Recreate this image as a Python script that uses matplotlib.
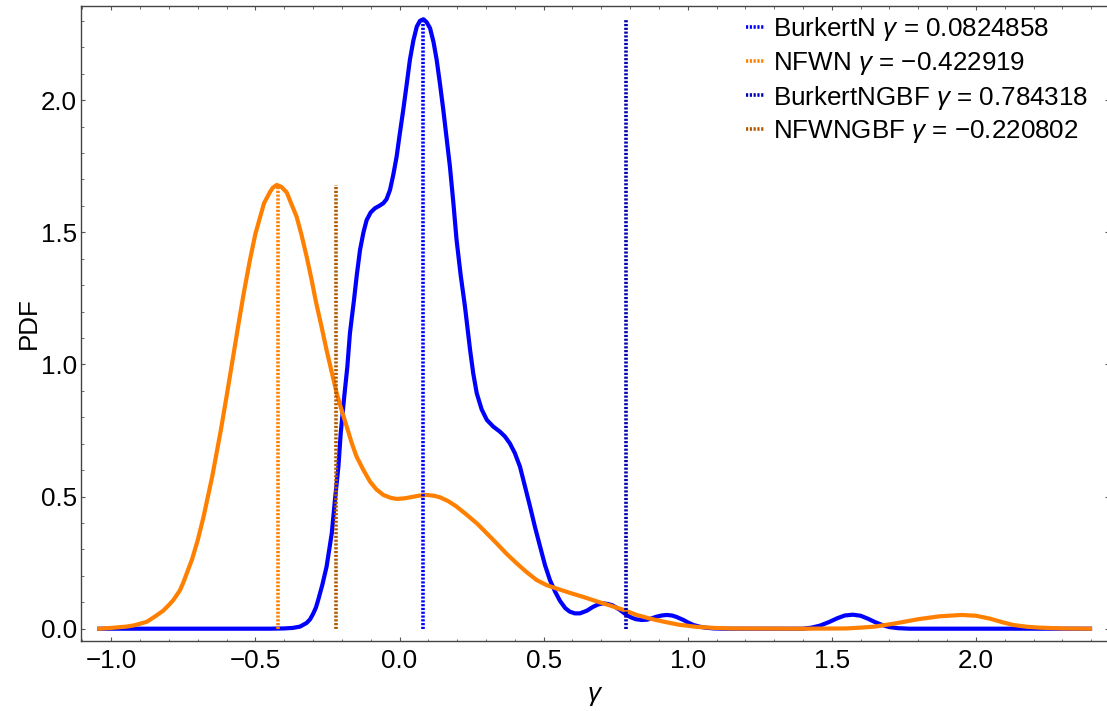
import matplotlib
matplotlib.use("Agg")
import matplotlib.pyplot as plt
from matplotlib.ticker import MultipleLocator
from matplotlib.lines import Line2D

# ---- data ----
burkert_x = [-1.042, -0.45, -0.40, -0.37, -0.345, -0.322, -0.31, -0.299, -0.29, -0.282,
             -0.268, -0.253, -0.235, -0.224, -0.212, -0.204, -0.193, -0.181, -0.172, -0.158,
             -0.148, -0.137, -0.125, -0.114, -0.10, -0.085, -0.07, -0.056, -0.045, -0.033,
             -0.022, -0.010, 0.0, 0.013, 0.025, 0.036, 0.048, 0.060, 0.071, 0.083,
             0.094, 0.106, 0.118, 0.129, 0.14, 0.152, 0.163, 0.175, 0.187, 0.198,
             0.212, 0.227, 0.245, 0.256, 0.268, 0.285, 0.303, 0.325, 0.349, 0.366,
             0.383, 0.40, 0.418, 0.435, 0.453, 0.47, 0.488, 0.505, 0.522, 0.54,
             0.557, 0.575, 0.59, 0.608, 0.626, 0.65, 0.672, 0.69, 0.707, 0.725,
             0.74, 0.765, 0.788, 0.805, 0.82, 0.84, 0.858, 0.875, 0.89, 0.91,
             0.927, 0.945, 0.96, 0.985, 1.0, 1.02, 1.04, 1.06, 1.09, 1.12,
             1.40, 1.43, 1.46, 1.49, 1.52, 1.545, 1.573, 1.60, 1.625, 1.65,
             1.675, 1.70, 1.73, 1.77, 2.396]
burkert_pdf = [0.0, 0.0, 0.001, 0.003, 0.008, 0.022, 0.036, 0.058, 0.08, 0.109,
               0.165, 0.235, 0.361, 0.487, 0.613, 0.739, 0.865, 0.991, 1.118, 1.243,
               1.34, 1.433, 1.50, 1.546, 1.575, 1.591, 1.60, 1.610, 1.625, 1.66,
               1.715, 1.786, 1.865, 1.963, 2.06, 2.152, 2.225, 2.278, 2.30, 2.306,
               2.295, 2.272, 2.22, 2.152, 2.065, 1.963, 1.86, 1.748, 1.61, 1.471,
               1.34, 1.22, 1.054, 0.965, 0.891, 0.83, 0.79, 0.765, 0.745, 0.727,
               0.701, 0.665, 0.613, 0.54, 0.462, 0.385, 0.31, 0.24, 0.184, 0.14,
               0.105, 0.078, 0.065, 0.058, 0.058, 0.068, 0.083, 0.092, 0.096, 0.093,
               0.088, 0.071, 0.052, 0.042, 0.036, 0.033, 0.034, 0.039, 0.045, 0.05,
               0.052, 0.05, 0.045, 0.033, 0.024, 0.014, 0.008, 0.004, 0.001, 0.0,
               0.0, 0.004, 0.012, 0.025, 0.04, 0.05, 0.053, 0.049, 0.038, 0.025,
               0.014, 0.006, 0.002, 0.0, 0.0]

nfw_x = [-1.042, -1.0, -0.947, -0.92, -0.877, -0.85, -0.82, -0.80, -0.785, -0.762,
         -0.75, -0.72, -0.70, -0.68, -0.65, -0.62, -0.60, -0.58, -0.56, -0.54,
         -0.519, -0.50, -0.484, -0.47, -0.449, -0.44, -0.426, -0.41, -0.391, -0.38,
         -0.357, -0.34, -0.322, -0.305, -0.29, -0.27, -0.253, -0.235, -0.218, -0.2,
         -0.183, -0.165, -0.149, -0.125, -0.102, -0.08, -0.056, -0.03, -0.010, 0.015,
         0.037, 0.065, 0.094, 0.12, 0.141, 0.17, 0.198, 0.23, 0.268, 0.30,
         0.337, 0.37, 0.407, 0.44, 0.476, 0.51, 0.545, 0.59, 0.638, 0.68,
         0.73, 0.78, 0.823, 0.87, 0.915, 0.97, 1.03, 1.09, 1.15, 1.40,
         1.55, 1.60, 1.65, 1.72, 1.80, 1.875, 1.951, 2.00, 2.049, 2.09,
         2.13, 2.18, 2.222, 2.30, 2.396]
nfw_pdf = [0.0, 0.003, 0.008, 0.013, 0.026, 0.045, 0.068, 0.09, 0.108, 0.145,
           0.175, 0.262, 0.335, 0.423, 0.575, 0.751, 0.879, 1.011, 1.144, 1.272,
           1.395, 1.494, 1.556, 1.61, 1.653, 1.668, 1.679, 1.672, 1.650, 1.62,
           1.559, 1.49, 1.407, 1.32, 1.237, 1.14, 1.054, 0.97, 0.891, 0.824,
           0.764, 0.70, 0.651, 0.60, 0.556, 0.527, 0.506, 0.495, 0.491, 0.493,
           0.497, 0.503, 0.506, 0.503, 0.497, 0.482, 0.462, 0.434, 0.399, 0.364,
           0.323, 0.285, 0.247, 0.215, 0.184, 0.165, 0.152, 0.136, 0.12, 0.105,
           0.088, 0.07, 0.052, 0.038, 0.027, 0.015, 0.007, 0.003, 0.001, 0.0,
           0.001, 0.004, 0.008, 0.02, 0.036, 0.047, 0.052, 0.049, 0.038, 0.025,
           0.014, 0.007, 0.004, 0.001, 0.0]

mean_labels = ["BurkertN", "NFWN", "BurkertNGBF", "NFWNGBF"]
mean_values = [0.0824858, -0.422919, 0.784318, -0.220802]
mean_texts = ["0.0824858", "\u22120.422919", "0.784318", "\u22120.220802"]

# ---- style ----
plt.rcParams["font.family"] = ["Liberation Sans", "DejaVu Sans"]
plt.rcParams["mathtext.fontset"] = "custom"
plt.rcParams["mathtext.it"] = "Liberation Sans:italic"
plt.rcParams["mathtext.rm"] = "Liberation Sans"
FS = 18.7

blue = (0, 0, 1)
orange = (1, 0.5, 0)
darkblue = (0, 0, 0.7)
brown = (0.7, 0.35, 0)

W, H = 1107, 711
fig = plt.figure(figsize=(W / 100, H / 100), dpi=100)
left_px, right_px, top_px, bot_px = 81, 1109, 6, 640.7
ax = fig.add_axes([left_px / W, (H - bot_px) / H, (right_px - left_px) / W, (bot_px - top_px) / H])

ax.plot(burkert_x, burkert_pdf, color=blue, lw=3.0, solid_joinstyle="round", zorder=3)
ax.plot(nfw_x, nfw_pdf, color=orange, lw=3.0, solid_joinstyle="round", zorder=3)

bmax = max(burkert_pdf)
nmax = max(nfw_pdf)
heights = [bmax, nmax, bmax, nmax]
vcolors = [blue, orange, darkblue, brown]
dot = (0, (0.6, 0.45))
handles = []
for lab, val, txt, h, c in zip(mean_labels, mean_values, mean_texts, heights, vcolors):
    ax.plot([val, val], [0, h], color=c, lw=2.6, linestyle=dot, zorder=4)
    handles.append(Line2D([], [], color=c, lw=2.6, linestyle=dot,
                          label=lab + r" $\gamma$ = " + txt))

# axis limits from pixel mapping
xpx0, xscale = 399.5, 288.2
ypx0, yscale = 628.7, 264.3
ax.set_xlim((left_px - xpx0) / xscale, (right_px - xpx0) / xscale)
ax.set_ylim((ypx0 - bot_px) / yscale, (ypx0 - top_px) / yscale)

ax.xaxis.set_major_locator(MultipleLocator(0.5))
ax.xaxis.set_minor_locator(MultipleLocator(0.1))
ax.yaxis.set_major_locator(MultipleLocator(0.5))
ax.yaxis.set_minor_locator(MultipleLocator(0.1))
ax.tick_params(which="both", direction="in", top=True, right=True,
               labeltop=False, labelright=False, color="#555555", labelsize=FS)
ax.tick_params(which="major", length=3.2, width=0.8)
ax.tick_params(which="minor", length=1.8, width=0.6)
ax.tick_params(axis="x", which="major", pad=6)
ax.tick_params(axis="y", which="major", pad=3)
for s in ax.spines.values():
    s.set_color("#444444")
    s.set_linewidth(1.0)

ax.set_xlabel(r"$\gamma$", fontsize=FS, labelpad=8)
ax.set_ylabel("PDF", fontsize=FS, labelpad=0)

ax.legend(handles=handles, loc="upper left", bbox_to_anchor=(746 / W, 1 - 14.8 / H),
          bbox_transform=fig.transFigure, borderpad=0, borderaxespad=0, frameon=False,
          fontsize=FS, handlelength=0.73, handletextpad=0.31, labelspacing=0.265)

fig.savefig("out.png", dpi=100, facecolor="white")
